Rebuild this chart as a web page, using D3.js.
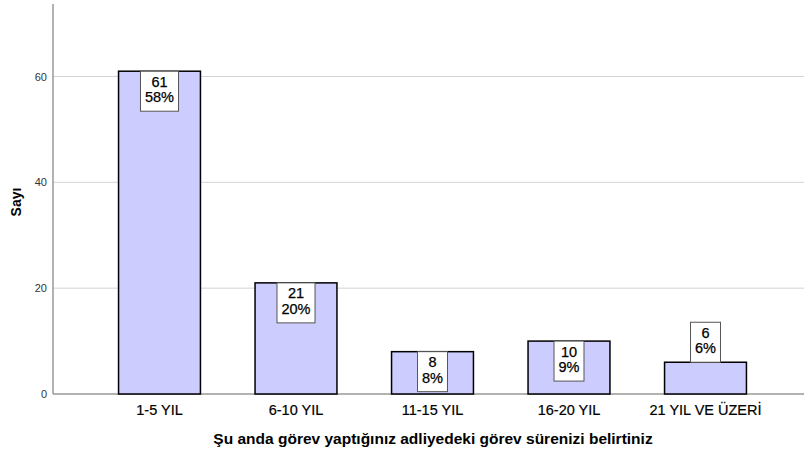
<!DOCTYPE html>
<meta charset="UTF-8">
<style>
  body { margin: 0; background-color: #fff; }
  svg { display: block; font-family: Arial, "Liberation Sans", sans-serif; }
</style>
<svg width="804" height="456"></svg>
<script src="https://d3js.org/d3.v7.min.js"></script>
<script>
  const categories = ['1-5 YIL', '6-10 YIL', '11-15 YIL', '16-20 YIL', '21 YIL VE ÜZERİ'];
  const counts = [61, 21, 8, 10, 6];
  const percents = [58, 20, 8, 9, 6];
  const yTicks = [0, 20, 40, 60];

  const AXIS_X = 53, BASE_Y = 394, TOP_Y = 4, RIGHT_X = 804;

  const svg = d3.select('svg');

  const x = d3.scaleBand()
    .domain(categories)
    .range([91.25, 773.75])
    .paddingInner(0.4)
    .paddingOuter(0.2);

  const y = d3.scaleLinear()
    .domain([0, 73.7])
    .range([BASE_Y, TOP_Y]);

  // gridlines
  svg.append('g')
    .selectAll('line')
    .data(yTicks.filter(d => d > 0))
    .enter().append('line')
      .attr('x1', AXIS_X).attr('x2', RIGHT_X)
      .attr('y1', d => y(d)).attr('y2', d => y(d))
      .attr('stroke', '#d4d4d4')
      .attr('stroke-width', 1);

  // y axis
  const yAxis = svg.append('g')
    .attr('transform', `translate(${AXIS_X},0)`)
    .call(d3.axisLeft(y).tickValues(yTicks).tickSize(0).tickPadding(6));
  yAxis.select('.domain').remove();
  yAxis.selectAll('text')
    .attr('font-size', 11)
    .attr('fill', '#333')
    .attr('font-family', 'Arial, "Liberation Sans", sans-serif');

  svg.append('line')
    .attr('x1', AXIS_X).attr('x2', AXIS_X)
    .attr('y1', TOP_Y).attr('y2', BASE_Y)
    .attr('stroke', '#999').attr('stroke-width', 1.5);
  svg.append('line')
    .attr('x1', AXIS_X).attr('x2', RIGHT_X)
    .attr('y1', BASE_Y).attr('y2', BASE_Y)
    .attr('stroke', '#999').attr('stroke-width', 1.5);

  const data = categories.map((c, i) => ({ cat: c, n: counts[i], pct: percents[i] }));

  // bars
  svg.append('g')
    .selectAll('rect')
    .data(data)
    .enter().append('rect')
      .attr('x', d => x(d.cat))
      .attr('y', d => y(d.n))
      .attr('width', x.bandwidth())
      .attr('height', d => y(0) - y(d.n))
      .attr('fill', '#ccccff')
      .attr('stroke', '#000')
      .attr('stroke-width', 1.5);

  // value labels
  const BOX_H = 40;
  const labels = svg.append('g')
    .selectAll('g')
    .data(data)
    .enter().append('g');

  labels.each(function(d) {
    const g = d3.select(this);
    const cx = x(d.cat) + x.bandwidth() / 2;
    const barH = y(0) - y(d.n);
    const top = barH >= BOX_H ? y(d.n) : y(d.n) - BOX_H;
    const rect = g.append('rect');
    const t1 = g.append('text')
      .attr('x', cx).attr('y', top + 15.5)
      .attr('text-anchor', 'middle')
      .attr('font-size', 14.5)
      .attr('stroke', '#000').attr('stroke-width', 0.25)
      .text(d.n);
    const t2 = g.append('text')
      .attr('x', cx).attr('y', top + 31)
      .attr('text-anchor', 'middle')
      .attr('font-size', 14.5)
      .attr('stroke', '#000').attr('stroke-width', 0.25)
      .text(d.pct + '%');
    const w = Math.max(t1.node().getComputedTextLength(), t2.node().getComputedTextLength()) + 9;
    rect.attr('x', cx - w / 2).attr('y', top)
      .attr('width', w).attr('height', BOX_H)
      .attr('fill', '#fff')
      .attr('stroke', '#555')
      .attr('stroke-width', 1);
  });

  // category labels
  svg.append('g')
    .selectAll('text')
    .data(categories)
    .enter().append('text')
      .attr('x', d => x(d) + x.bandwidth() / 2)
      .attr('y', 415)
      .attr('text-anchor', 'middle')
      .attr('font-size', 14.5)
      .attr('fill', '#000')
      .attr('stroke', '#000').attr('stroke-width', 0.2)
      .text(d => d);

  // axis titles
  svg.append('text')
    .attr('x', 433).attr('y', 444)
    .attr('text-anchor', 'middle')
    .attr('font-size', 15.5)
    .attr('font-weight', 'bold')
    .text('Şu anda görev yaptığınız adliyedeki görev sürenizi belirtiniz');

  svg.append('text')
    .attr('transform', 'translate(21,202) rotate(-90)')
    .attr('text-anchor', 'middle')
    .attr('font-size', 14)
    .attr('font-weight', 'bold')
    .text('Sayı');
</script>
